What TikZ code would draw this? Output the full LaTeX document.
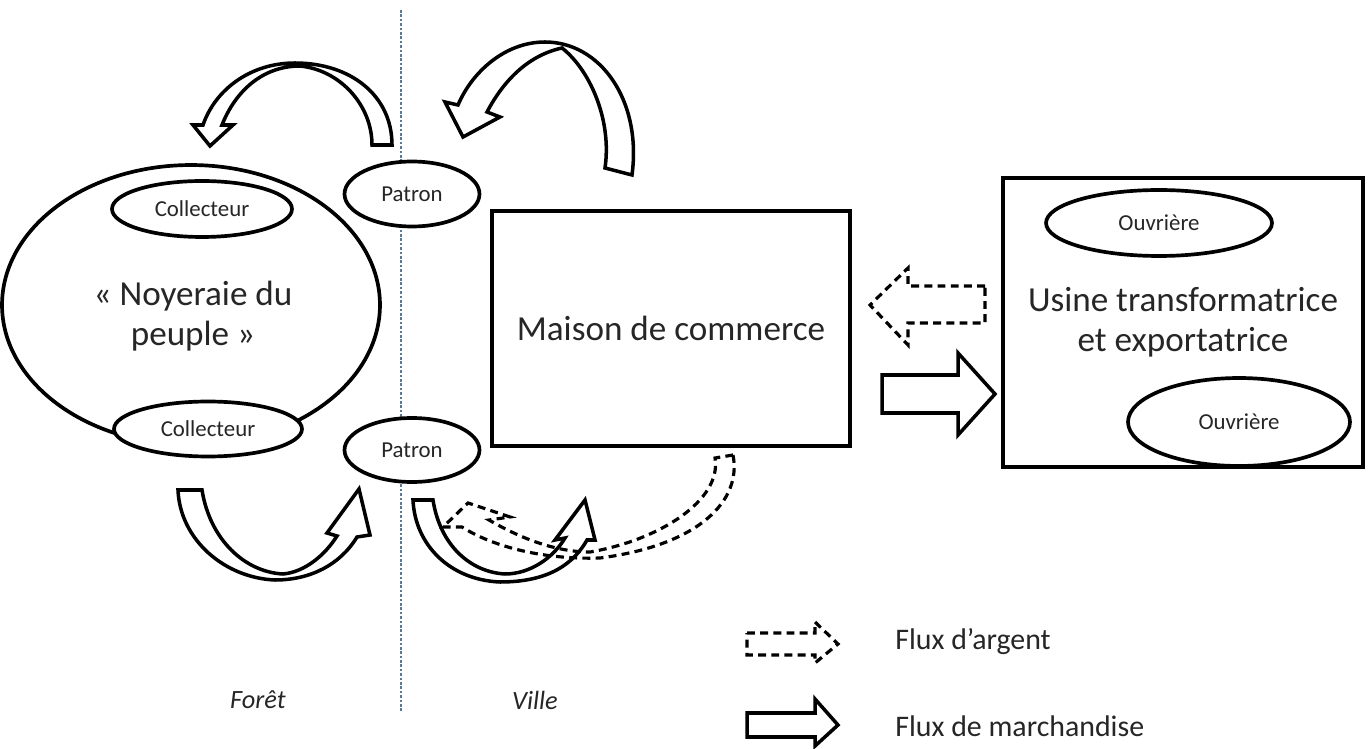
\documentclass[tikz,border=0pt]{standalone}
\usepackage{fontspec}
\setmainfont{Carlito}
\usepackage{tikz}
\usetikzlibrary{shapes.geometric}
\definecolor{FrontierBlue}{HTML}{5B7896}
\definecolor{InkGray}{HTML}{262626}
\tikzset{
  grove/.style={draw, ellipse, line width=2.1pt, fill=white, inner sep=0pt},
  grovetext/.style={align=center, inner sep=0pt, text=InkGray,
    font=\fontsize{20}{23}\selectfont},
  member/.style={draw, ellipse, line width=2.1pt, fill=white, inner sep=0pt,
    text=InkGray, font=\fontsize{13}{15}\selectfont},
  house/.style={draw, rectangle, line width=2.1pt, fill=white, inner sep=0pt,
    align=center, text=InkGray, font=\fontsize{20}{23}\selectfont},
  goods/.style={draw, line width=2pt, fill=white, line join=miter},
  money/.style={draw, line width=1.8pt, dash pattern=on 4.5pt off 3pt, fill=white},
  moneycurve/.style={money, fill=none},
  frontier/.style={draw=FrontierBlue, line width=0.6pt, dash pattern=on 1.5pt off 1pt},
  zone/.style={inner sep=0pt, text=InkGray, font=\fontsize{15}{18}\selectfont\itshape},
  legendtext/.style={anchor=west, inner sep=0pt, text=InkGray,
    font=\fontsize{17}{20}\selectfont}
}

\begin{document}
\begin{tikzpicture}[x=0.02cm, y=-0.02cm]
  \useasboundingbox (0,0) rectangle (1372,749);
  % forest / town border
  \coordinate (bordtop) at (401,10);
  \coordinate (bordbot) at (401,712);
  \draw[frontier] (bordtop) -- (bordbot);
  \node[zone] (foret) at (258,700) {Forêt};
  \node[zone] (ville) at (535,700) {Ville};

  % actors
  \node[grove, minimum width=7.56cm, minimum height=5.6cm] (noyeraie) at (191,305) {};
  \node[grovetext] (noyeraietext) at (193,316) {« Noyeraie du\\peuple »};
  \node[member, minimum width=3.6cm, minimum height=1.12cm] (colltop) at (202,209) {Collecteur};
  \node[member, minimum width=3.76cm, minimum height=1.1cm] (collbot) at (208,429) {Collecteur};
  \node[member, minimum width=2.7cm, minimum height=1.3cm] (patrontop) at (412,194) {Patron};
  \node[member, minimum width=2.7cm, minimum height=1.28cm] (patronbot) at (412,450) {Patron};
  \node[house, minimum width=7.16cm, minimum height=4.7cm] (maison) at (671,328.5)
    {Maison de commerce};
  \node[house, minimum width=7.2cm, minimum height=5.78cm] (usine) at (1183,322.5)
    {Usine transformatrice\\et exportatrice};
  \node[member, minimum width=4.52cm, minimum height=1.32cm] (ouvtop) at (1159,223) {Ouvrière};
  \node[member, minimum width=4.44cm, minimum height=1.76cm] (ouvbot) at (1239,422) {Ouvrière};

  % curved flows
  \path[goods] (392,145) .. controls (392,95) and (350,63) .. (295,63)
    .. controls (250,63) and (215,90) .. (203,125) -- (193,125) -- (210,146)
    -- (233,125) -- (222,125) .. controls (235,92) and (262,66) .. (300,66)
    .. controls (340,70) and (372,105) .. (372,145) -- cycle;
  \path[goods] (632,175) .. controls (642,100) and (600,42) .. (545,42)
    .. controls (505,42) and (472,72) .. (458,105) -- (445,102) -- (463,137)
    -- (500,117) -- (487,112) .. controls (505,78) and (530,55) .. (562,48)
    .. controls (590,70) and (612,120) .. (605,168) -- cycle;
  \path[goods] (178,490) -- (202,490) .. controls (210,540) and (245,572) .. (283,574)
    .. controls (305,572) and (325,555) .. (337,536) -- (327,533) -- (359,489)
    -- (370,535) -- (357,537) .. controls (340,565) and (310,580) .. (275,580)
    .. controls (225,578) and (180,540) .. (178,490) -- cycle;
  \path[goods] (413,500) -- (433,500) .. controls (440,545) and (470,572) .. (505,574)
    .. controls (530,574) and (553,558) .. (565,538) -- (555,540) -- (585,500)
    -- (595,540) -- (587,540) .. controls (570,570) and (540,582) .. (500,582)
    .. controls (450,580) and (415,545) .. (413,500) -- cycle;
  \path[moneycurve] (733,455) .. controls (742,500) and (700,545) .. (600,558)
    .. controls (540,560) and (490,545) .. (462,527) -- (443,527) -- (468,503)
    -- (510,517) -- (489,520) .. controls (520,538) and (555,552) .. (590,552)
    .. controls (660,540) and (722,500) .. (715,458) -- cycle;

  % straight flows between maison and usine
  \path[money] (985,286) -- (908,286) -- (908,268) -- (870,305) -- (908,345)
    -- (908,323) -- (985,323) -- cycle;
  \path[goods] (882,375) -- (958,375) -- (958,353) -- (995,394) -- (958,435)
    -- (958,413) -- (882,413) -- cycle;

  % legend
  \path[money] (747,633) -- (815,633) -- (815,622) -- (838,644) -- (815,663)
    -- (815,655) -- (747,655) -- cycle;
  \path[goods] (747,713) -- (815,713) -- (815,699) -- (838,725) -- (815,746)
    -- (815,737) -- (747,737) -- cycle;
  \node[legendtext] (legmoney) at (895,642) {Flux d’argent};
  \node[legendtext] (leggoods) at (895,726) {Flux de marchandise};
\end{tikzpicture}
\end{document}
